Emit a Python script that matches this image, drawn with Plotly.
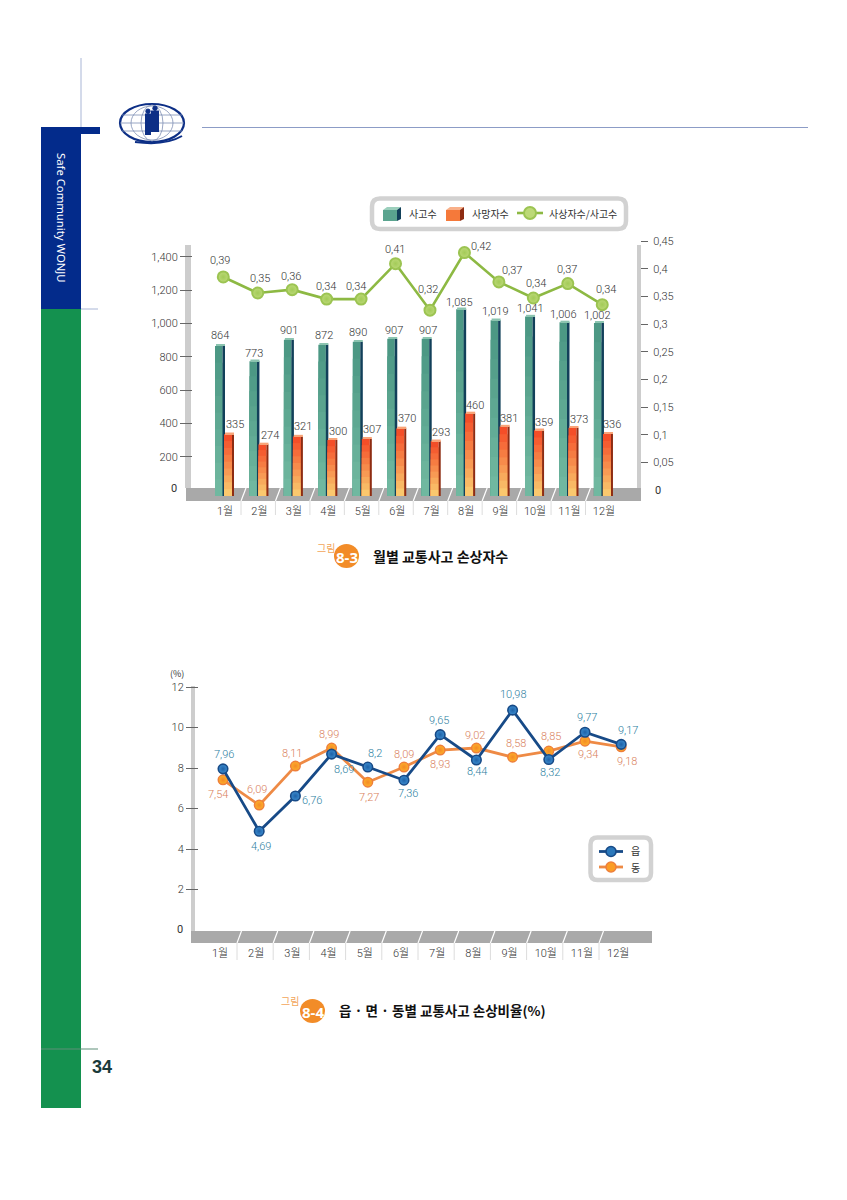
import plotly.graph_objects as go

W, H = 847, 1200
months = ["1월", "2월", "3월", "4월", "5월", "6월", "7월", "8월", "9월", "10월", "11월", "12월"]
accidents = [864, 773, 901, 872, 890, 907, 907, 1085, 1019, 1041, 1006, 1002]
accident_labels = ["864", "773", "901", "872", "890", "907", "907", "1,085", "1,019", "1,041", "1,006", "1,002"]
deaths = [335, 274, 321, 300, 307, 370, 293, 460, 381, 359, 373, 336]
ratio = [0.385, 0.356, 0.362, 0.345, 0.345, 0.409, 0.325, 0.429, 0.376, 0.347, 0.373, 0.335]
ratio_labels = ["0,39", "0,35", "0,36", "0,34", "0,34", "0,41", "0,32", "0,42", "0,37", "0,34", "0,37", "0,34"]
left_ticks = [0, 200, 400, 600, 800, 1000, 1200, 1400]
left_ticktext = ["0", "200", "400", "600", "800", "1,000", "1,200", "1,400"]
right_ticks = [0, 0.05, 0.1, 0.15, 0.2, 0.25, 0.3, 0.35, 0.4, 0.45]
right_ticktext = ["0", "0,05", "0,1", "0,15", "0,2", "0,25", "0,3", "0,35", "0,4", "0,45"]
eup = [7.96, 4.88, 6.62, 8.69, 8.05, 7.4, 9.65, 8.4, 10.86, 8.42, 9.77, 9.17]
eup_labels = ["7,96", "4,69", "6,76", "8,69", "8,2", "7,36", "9,65", "8,44", "10,98", "8,32", "9,77", "9,17"]
dong = [7.42, 6.17, 8.1, 8.99, 7.3, 8.05, 8.89, 8.99, 8.54, 8.84, 9.33, 9.05]
dong_labels = ["7,54", "6,09", "8,11", "8,99", "7,27", "8,09", "8,93", "9,02", "8,58", "8,85", "9,34", "9,18"]
pct_ticks = [0, 2, 4, 6, 8, 10, 12]

# label nudges in pixels (right, up), relative to the mark each label belongs to
acc_nudge = [(-5, 10), (-5.5, 8), (-5, 9), (-4, 9), (-5, 9), (-3, 8), (-4, 8), (-7, 7), (-5, 9), (-5, 8), (-6, 8), (-6, 7)]
death_nudge = [(10, 10), (10.5, 9), (9, 9.5), (10, 8), (9, 9), (10, 10), (9, 9), (9, 8), (8, 8), (9, 8), (9.5, 8), (8, 9)]
ratio_nudge = [(-3, 16), (2, 15), (-1, 13), (-1, 13), (-5, 13), (-1, 14), (-2, 21), (17, 6), (13, 11), (3, 14), (-1, 14), (4, 15)]
eup_nudge = [(1, 14), (2, -15), (17, -5), (12, -15), (7, 14), (4, -13), (-1, 14), (1, -12), (1, 16), (1, -13), (2, 15), (7, 14)]
dong_nudge = [(-5, -15), (-2, 16), (-3, 13), (-3, 14), (1, -15), (0, 13), (0, -14), (-1, 13), (3, 14), (2, 15), (3, -13), (6, -15)]

FONT = "Roboto, Noto Sans CJK KR"
KR = "Noto Sans CJK KR"
TXT = "#333333"
idx = list(range(12))
def px(x): return x / W
def py(y): return 1 - y / H

fig = go.Figure()

# ---------- chart 1: bars (axes x / y) ----------
BASE = -36
def step(px_w): return px_w / 34.45
def layered(values, x0, face_w, side_w, low, high, side, cap, n=9):
    for k in range(n):
        f = 1 - k / n
        t = k / (n - 1)
        c = "rgb(%d,%d,%d)" % tuple(round(high[j] + (low[j] - high[j]) * t) for j in range(3))
        fig.add_bar(x=idx, y=[(v - BASE) * f for v in values], base=BASE,
                    offset=step(x0), width=step(face_w), marker=dict(color=c, line_width=0),
                    showlegend=False, hoverinfo="skip", name="layer")
    fig.add_bar(x=idx, y=[v - BASE for v in values], base=BASE, offset=step(x0 + face_w),
                width=step(side_w), marker=dict(color=side, line_width=0), showlegend=False, hoverinfo="skip")
    fig.add_bar(x=idx, y=[10] * 12, base=values, offset=step(x0 + 1), width=step(face_w + side_w - 1),
                marker=dict(color=cap, line_width=0), showlegend=False, hoverinfo="skip")

layered(accidents, -10, 7.5, 2.5, (112, 184, 160), (76, 152, 132), "#12405a", "#8cc4b0")
layered(deaths, -1, 8, 2, (250, 200, 110), (244, 78, 40), "#8e2c12", "#f8a478")

xs1 = [i - 0.05 for i in idx]
fig.add_scatter(x=xs1, y=ratio, yaxis="y2", name="사상자수/사고수", mode="lines+markers",
                line=dict(color="#8db943", width=2.6), cliponaxis=False, showlegend=False,
                marker=dict(size=11, color="#bcd977", line=dict(color="#9cc452", width=2),
                            gradient=dict(type="radial", color="#a3cb58")), hoverinfo="skip")

# ---------- chart 2 (axes x2 / y3) ----------
xs2 = [i + 0.083 for i in idx]
fig.add_scatter(x=xs2, y=dong, xaxis="x2", yaxis="y3", name="동", mode="lines+markers", showlegend=False,
                line=dict(color="#ee8a45", width=2.8), cliponaxis=False,
                marker=dict(size=9.5, color="#fdb02a", line=dict(color="#ee7f3a", width=1.5),
                            gradient=dict(type="radial", color="#f48a26")), hoverinfo="skip")
fig.add_scatter(x=xs2, y=eup, xaxis="x2", yaxis="y3", name="읍", mode="lines+markers", showlegend=False,
                line=dict(color="#174a87", width=2.8), cliponaxis=False,
                marker=dict(size=9.5, color="#3b8ccf", line=dict(color="#174a87", width=1.6),
                            gradient=dict(type="radial", color="#1f62a8")), hoverinfo="skip")

# ---------- page furniture ----------
shapes = []
def rect(x0, y0, x1, y1, fill, layer="below"):
    shapes.append(dict(type="rect", xref="paper", yref="paper", x0=px(x0), x1=px(x1), y0=py(y0), y1=py(y1),
                       fillcolor=fill, line_width=0, layer=layer))
def line(x0, y0, x1, y1, color, width=1, layer="below"):
    shapes.append(dict(type="line", xref="paper", yref="paper", x0=px(x0), x1=px(x1), y0=py(y0), y1=py(y1),
                       line=dict(color=color, width=width), layer=layer))
def ellipse(x0, y0, x1, y1, color, width=1, fill=None, layer="above"):
    d = dict(type="circle", xref="paper", yref="paper", x0=px(x0), x1=px(x1), y0=py(y0), y1=py(y1),
             line=dict(color=color, width=width), layer=layer)
    if fill:
        d["fillcolor"] = fill
    shapes.append(d)
def poly(points, fill):
    p = "M " + " L ".join(f"{px(a)} {py(b)}" for a, b in points) + " Z"
    shapes.append(dict(type="path", xref="paper", yref="paper", path=p, fillcolor=fill, line_width=0, layer="above"))
def rounded(x0, y0, x1, y1, r, color, width):
    p = (f"M {px(x0 + r)} {py(y0)} L {px(x1 - r)} {py(y0)} Q {px(x1)} {py(y0)} {px(x1)} {py(y0 + r)} "
         f"L {px(x1)} {py(y1 - r)} Q {px(x1)} {py(y1)} {px(x1 - r)} {py(y1)} "
         f"L {px(x0 + r)} {py(y1)} Q {px(x0)} {py(y1)} {px(x0)} {py(y1 - r)} "
         f"L {px(x0)} {py(y0 + r)} Q {px(x0)} {py(y0)} {px(x0 + r)} {py(y0)} Z")
    shapes.append(dict(type="path", xref="paper", yref="paper", path=p, line=dict(color=color, width=width), layer="below"))

rect(41, 127, 81, 309, "#032b8b")
rect(41, 127, 100, 134, "#032b8b")
rect(41, 309, 81, 1108, "#14914f")
line(81, 58, 81, 127, "#a9b6d6")
line(202, 127.5, 808, 127.5, "#8c9cc6")
line(81, 309, 98, 309, "#a9b6d6")
line(41, 1049, 98, 1049, "#5e8f78")

# logo
ellipse(120, 104, 184, 142, "#0d2f86", 2.2)
ellipse(131, 106, 173, 140, "#7f8fb5", 0.8)
ellipse(141, 105, 163, 141, "#7f8fb5", 0.8)
line(122, 115, 182, 115, "#7f8fb5", 0.8, "above")
line(120, 123, 184, 123, "#7f8fb5", 0.8, "above")
line(122, 131, 182, 131, "#7f8fb5", 0.8, "above")
for (cx, cy, hw) in ((148, 115, 3), (155, 112, 4)):
    ellipse(cx - 2.2, cy - 6, cx + 2.2, cy - 1.5, "#0d2f86", 1, "#0d2f86")
    rect(cx - hw, cy - 1.5, cx + hw, cy + 20, "#0d2f86", "above")
shapes.append(dict(type="path", xref="paper", yref="paper", layer="above", line=dict(color="#0d2f86", width=2),
                   path=f"M {px(135)} {py(142)} Q {px(165)} {py(146)} {px(182)} {py(136)}"))

# chart 1 walls, floor, separators
rect(185, 245, 191, 488, "#cdcdcd")
rect(637, 245, 641, 490, "#cdcdcd")
rect(186, 488, 641, 501, "#a9a9a9")
for i in range(11):
    x = 241 + 34.45 * i
    line(x, 501, x + 5, 488, "#ffffff", 1.2)
    line(x, 501, x, 515, "#dcdcdc", 1)
# chart 2
rect(191, 686, 195, 931, "#cdcdcd")
rect(191, 931, 652, 943, "#a9a9a9")
for i in range(11):
    x = 237 + 36.2 * i
    line(x, 943, x + 4.5, 931, "#ffffff", 1.2)
    line(x, 943, x, 960, "#dcdcdc", 1)

# legend frames and keys
rounded(372, 198.5, 626, 229, 8, "#d2d2d2", 4.5)
rounded(590.5, 837.5, 651, 880, 7, "#d2d2d2", 4.5)
def box_key(x0, y0, x1, y1, face, top, side):
    poly([(x0, y0 + 3), (x1 - 4, y0 + 3), (x1 - 4, y1), (x0, y1)], face)
    poly([(x0, y0 + 3), (x0 + 4, y0), (x1, y0), (x1 - 4, y0 + 3)], top)
    poly([(x1 - 4, y0 + 3), (x1, y0), (x1, y1 - 2), (x1 - 4, y1)], side)
box_key(383, 207, 401, 221, "#5aa48f", "#9bcfbc", "#12405a")
box_key(446, 207, 464, 221, "#f5793a", "#f9b089", "#8e2c12")
line(517, 213, 543, 213, "#8db943", 2.6, "above")
ellipse(524, 207, 536, 219, "#9cc452", 2, "#bcd977")
line(599, 851.5, 623, 851.5, "#174a87", 2.8, "above")
ellipse(606, 846.5, 616, 856.5, "#174a87", 1.6, "#2b78bb")
line(599, 867, 623, 867, "#ee8a45", 2.8, "above")
ellipse(606, 862, 616, 872, "#ee7f3a", 1.5, "#fb9d25")

# figure badges
ellipse(334, 544, 359, 568, "#f28c28", 0, "#f28c28")
ellipse(300, 999, 325, 1023, "#f28c28", 0, "#f28c28")

def note(x, y, text, size=11, color=TXT, bold=False, anchor="center", family=KR, angle=0):
    return dict(xref="paper", yref="paper", x=px(x), y=py(y), text=f"<b>{text}</b>" if bold else text,
                showarrow=False, xanchor=anchor, yanchor="middle", textangle=angle,
                font=dict(family=family, size=size, color=color))

annotations = [
    note(61, 218, "Safe Community WONJU", 11.3, "#ffffff", angle=90, family="Noto Sans"),
    note(102, 1067, "34", 18, "#1a3a3a", True, family="Liberation Sans"),
    note(326, 547, "그림", 10, "#f2a65a"),
    note(347, 557, "8-3", 15, "#ffffff", True, family="Noto Sans"),
    note(371, 556, "월별 교통사고 손상자수", 14, "#111111", True, "left"),
    note(290, 1001, "그림", 10, "#f2a65a"),
    note(313, 1012, "8-4", 15, "#ffffff", True, family="Noto Sans"),
    note(337, 1010, "읍 · 면 · 동별 교통사고 손상비율(%)", 13.5, "#111111", True, "left"),
    note(177, 673, "(%)", 9, TXT),
    note(407, 213, "사고수", 10, TXT, anchor="left"),
    note(470, 213, "사망자수", 10, TXT, anchor="left"),
    note(547, 213, "사상자수/사고수", 10, TXT, anchor="left"),
    note(629, 851, "읍", 10, TXT, anchor="left"),
    note(629, 867, "동", 10, TXT, anchor="left"),
    note(174, 489, left_ticktext[0], 11, TXT, family=FONT),
    note(658, 490, right_ticktext[0], 11, TXT, family=FONT),
    note(180, 929, str(pct_ticks[0]), 11, TXT, family=FONT),
]

def value_labels(xs, ys, labels, nudges, xref, yref, color):
    for x, y, t, (dx, dy) in zip(xs, ys, labels, nudges):
        annotations.append(dict(x=x, y=y, xref=xref, yref=yref, text=t, showarrow=False, xshift=dx, yshift=dy,
                                xanchor="center", yanchor="middle",
                                font=dict(family=FONT, size=11, color=color, weight=300)))

value_labels(idx, accidents, accident_labels, acc_nudge, "x", "y", TXT)
value_labels(idx, deaths, [str(v) for v in deaths], death_nudge, "x", "y", TXT)
value_labels(xs1, ratio, ratio_labels, ratio_nudge, "x", "y2", TXT)
value_labels(xs2, eup, eup_labels, eup_nudge, "x2", "y3", "#2f7f9f")
value_labels(xs2, dong, dong_labels, dong_nudge, "x2", "y3", "#d97f5c")

axfont = dict(family=FONT, size=11, color=TXT, weight=300)
fig.update_layout(
    width=W, height=H, autosize=False, margin=dict(l=0, r=0, t=0, b=0, autoexpand=False),
    paper_bgcolor="white", plot_bgcolor="rgba(0,0,0,0)", showlegend=False,
    barmode="overlay", shapes=shapes, annotations=annotations,
    xaxis=dict(domain=[px(186), px(641)], range=[-1.132, 12.075], tickmode="array", tickvals=idx, ticktext=months,
               showgrid=False, zeroline=False, ticks="", tickfont=axfont, anchor="y", ticklabelstandoff=2),
    yaxis=dict(domain=[py(501), py(240)], range=[-66, 1500], tickmode="array", tickvals=left_ticks[1:],
               ticktext=left_ticktext[1:], showgrid=False, zeroline=False, ticks="outside", ticklen=12,
               tickcolor="#666666", tickwidth=1, tickfont=axfont, anchor="free", position=px(192),
               showline=False),
    yaxis2=dict(domain=[py(501), py(240)], range=[-0.01988, 0.4518], overlaying="y", side="right", tickmode="array",
                tickvals=right_ticks[1:], ticktext=right_ticktext[1:], showgrid=False, zeroline=False, ticks="outside",
                ticklen=7, tickcolor="#666666", tickwidth=1, tickfont=axfont, anchor="free", position=px(640),
                showline=False, ticklabelstandoff=3),
    xaxis2=dict(domain=[px(191), px(652)], range=[-0.801, 11.934], tickmode="array", tickvals=idx, ticktext=months,
                showgrid=False, zeroline=False, ticks="", tickfont=axfont, anchor="y3", ticklabelstandoff=2),
    yaxis3=dict(domain=[py(943), py(680)], range=[-0.642, 12.35], tickmode="array", tickvals=pct_ticks[1:],
                showgrid=False, zeroline=False, ticks="outside", ticklen=12, tickcolor="#666666", tickwidth=1,
                tickfont=axfont, anchor="free", position=px(198), showline=False),
)

fig.write_html("out.html", config=dict(displayModeBar=False), post_script="document.body.style.margin='0';")
